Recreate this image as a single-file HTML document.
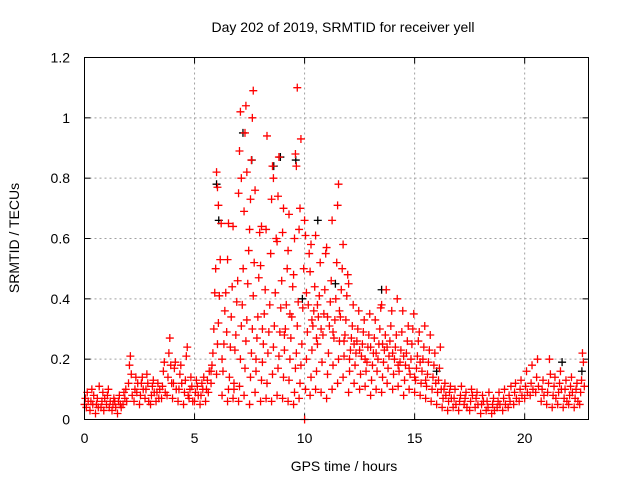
<!DOCTYPE html>
<html><head><meta charset="utf-8">
<style>
html,body{margin:0;padding:0;background:#fff;}
svg{display:block;font-family:"Liberation Sans",sans-serif;}
</style></head>
<body>
<svg id="chart" width="640" height="480" viewBox="0 0 640 480">
<rect width="640" height="480" fill="#fff"/>
<text x="343" y="32" text-anchor="middle" font-size="14">Day 202 of 2019, SRMTID for receiver yell</text>
<g id="grid"></g>
<g id="ticks"></g>
<g id="marks"></g>
<rect x="84.5" y="57.5" width="504" height="362" fill="none" stroke="#000" stroke-width="1"/>
<text x="344" y="471" text-anchor="middle" font-size="14">GPS time / hours</text>
<text transform="translate(19,238) rotate(-90)" text-anchor="middle" font-size="14">SRMTID / TECUs</text>
</svg>
<script>
const xTicks = [0,5,10,15,20];
const yTicks = [0,0.2,0.4,0.6,0.8,1,1.2];
const yTickLabels = ["0","0.2","0.4","0.6","0.8","1","1.2"];
const hours = [0,0.25,0.5,0.75,1,1.25,1.5,1.75,2,2.25,2.5,2.75,3,3.25,3.5,3.75,4,4.25,4.5,4.75,5,5.25,5.5,5.75,6,6.25,6.5,6.75,7,7.25,7.5,7.75,8,8.25,8.5,8.75,9,9.25,9.5,9.75,10,10.25,10.5,10.75,11,11.25,11.5,11.75,12,12.25,12.5,12.75,13,13.25,13.5,13.75,14,14.25,14.5,14.75,15,15.25,15.5,15.75,16,16.25,16.5,16.75,17,17.25,17.5,17.75,18,18.25,18.5,18.75,19,19.25,19.5,19.75,20,20.25,20.5,20.75,21,21.25,21.5,21.75,22,22.25,22.5];
const srmtid = [
[.05,.07,.04,.09,.06],[.03,.06,.10,.05,.08],[.02,.05,.07,.04,.11],[.04,.06,.09,.03,.07],[.05,.08,.10,.04,.06],
[.03,.05,.07,.06,.04],[.02,.06,.08,.05,.04],[.05,.09,.07,.10,.06],[.12,.18,.21,.15,.08],[.06,.10,.14,.09,.12],
[.05,.08,.12,.14,.10],[.07,.10,.15,.12,.06],[.05,.08,.11,.13,.09],[.06,.09,.12,.07,.10],[.07,.11,.16,.19,.09],
[.08,.14,.22,.27,.18,.12],[.07,.12,.17,.19,.10],[.06,.10,.15,.18,.12],[.05,.09,.13,.21,.24,.08],[.07,.10,.14,.11,.06],
[.06,.09,.13,.11,.08],[.05,.08,.12,.10,.14],[.06,.10,.13,.09,.16],[.12,.18,.22,.30,.42,.50,.16],
[.15,.25,.32,.41,.53,.65,.82,.77,.71],[.08,.16,.25,.36,.42,.29,.20],[.06,.10,.14,.24,.34,.44,.53,.65],
[.07,.12,.23,.28,.39,.46,.64,.10],[.06,.11,.20,.31,.38,.50,.75,.89,1.02,.80],[.08,.17,.26,.33,.45,.56,.69,.95,1.04,.82],
[.05,.14,.22,.30,.41,.52,.63,.73,.86,1.00,1.09],[.09,.16,.27,.34,.47,.62,.76,.20],[.06,.13,.19,.25,.35,.43,.51,.64,.30],
[.07,.12,.22,.29,.38,.55,.63,.94],[.06,.15,.24,.31,.42,.60,.73,.84,.80],[.08,.17,.21,.29,.37,.46,.59,.74,.87],
[.07,.14,.23,.30,.38,.50,.62,.70,.28],[.06,.13,.20,.27,.34,.44,.56,.68,.35],[.05,.09,.17,.22,.31,.39,.48,.60,.88,.84,1.10],
[.07,.12,.18,.25,.37,.50,.63,.70,.93],[.00,.10,.20,.29,.38,.55,.66,.61,.42],[.08,.14,.23,.31,.36,.44,.49,.58,.33],
[.10,.16,.25,.34,.41,.52,.61,.27,.38],[.09,.19,.28,.35,.43,.55,.30],[.07,.15,.22,.31,.39,.46,.57,.34],
[.10,.18,.27,.33,.40,.52,.66,.29],[.12,.20,.26,.34,.43,.50,.71,.78,.36],[.14,.21,.28,.33,.41,.48,.58,.26],
[.09,.16,.23,.27,.31,.38,.45,.20],[.12,.18,.22,.26,.30,.36,.25],[.10,.15,.21,.25,.29,.33,.23],[.11,.16,.19,.24,.28,.35,.20],
[.08,.13,.18,.22,.27,.33,.24],[.10,.16,.20,.25,.30,.37,.22],[.09,.14,.19,.23,.28,.43,.38,.25],[.12,.17,.21,.26,.31,.36,.24],
[.10,.15,.20,.24,.28,.40,.22],[.11,.16,.19,.23,.29,.36,.18],[.08,.13,.18,.22,.26,.31,.21],[.10,.15,.20,.25,.30,.35,.17],
[.09,.13,.17,.21,.26,.29,.14],[.08,.12,.16,.20,.24,.31,.19],[.07,.11,.15,.19,.23,.28,.13],[.06,.10,.14,.18,.22,.12],
[.05,.09,.13,.17,.24,.10],[.04,.07,.10,.12,.08],[.03,.06,.09,.11,.07],[.04,.07,.10,.05],[.03,.06,.08,.11],
[.05,.07,.09,.04],[.03,.06,.10,.08],[.04,.07,.09,.05],[.02,.05,.08,.06],[.03,.06,.04,.09],[.02,.05,.07,.03],
[.04,.06,.09,.05],[.03,.07,.10,.05],[.04,.08,.06,.11],[.05,.09,.12,.07],[.06,.10,.13,.08],[.07,.11,.16,.09],
[.08,.12,.18,.10],[.09,.14,.20,.11],[.06,.10,.13,.08],[.05,.09,.12,.20,.15],[.04,.08,.11,.14,.07],
[.05,.09,.12,.16,.10],[.04,.07,.10,.13,.06],[.05,.08,.11,.14,.09],[.04,.07,.10,.12,.06],[.05,.09,.13,.22,.19,.11]
];
const blackHours = [6.0,6.1,7.2,7.6,8.6,8.9,9.6,9.9,10.6,11.4,13.5,16.0,21.7,22.6];
const blackValues = [0.78,0.66,0.95,0.86,0.84,0.87,0.86,0.40,0.66,0.45,0.43,0.16,0.19,0.16];

const NS="http://www.w3.org/2000/svg";
const X0=84.5,X1=588.5,Y0=419.5,Y1=57.5,XMAX=22.9,YMAX=1.2;
function xs(v){return X0+(X1-X0)*v/XMAX;}
function ys(v){return Y0-(Y0-Y1)*v/YMAX;}
const grid=document.getElementById('grid'),ticks=document.getElementById('ticks'),marks=document.getElementById('marks');
function mk(tag,attrs,parent){const e=document.createElementNS(NS,tag);for(const k in attrs)e.setAttribute(k,attrs[k]);parent.appendChild(e);return e;}
xTicks.forEach(t=>{
  const x=xs(t);
  if(t>0){const g=mk('line',{x1:x,x2:x,y1:Y0,y2:Y1,stroke:'#a0a0a0','stroke-dasharray':'2,3'},grid);
  
  }
  mk('line',{x1:x,x2:x,y1:Y0,y2:Y0-6,stroke:'#000'},ticks);
  mk('line',{x1:x,x2:x,y1:Y1,y2:Y1+6,stroke:'#000'},ticks);
  const l=mk('text',{x:x,y:443,'text-anchor':'middle','font-size':'14'},ticks);
  l.textContent=t;
  
  
});
yTicks.forEach((t,i)=>{
  const y=ys(t);
  if(t>0&&t<1.2){const g=mk('line',{x1:X0,x2:X1,y1:y,y2:y,stroke:'#a0a0a0','stroke-dasharray':'2,3'},grid);
  
  }
  mk('line',{x1:X0,x2:X0+6,y1:y,y2:y,stroke:'#000'},ticks);
  mk('line',{x1:X1,x2:X1-6,y1:y,y2:y,stroke:'#000'},ticks);
  const l=mk('text',{x:70,y:y+5,'text-anchor':'end','font-size':'14'},ticks);
  l.textContent=yTickLabels[i];
  
  
});
function plus(t,v,color,name){
  const x=xs(t),y=ys(v);
  const p=mk('path',{d:`M${x-4},${y}h8M${x},${y-4}v8`,stroke:color,'stroke-width':'1.3',fill:'none'},marks);
  
  
}
blackHours.forEach((h,i)=>plus(h,blackValues[i],'#000','black-point'));
hours.forEach((h,i)=>{
  srmtid[i].forEach((v,j)=>plus(h+(j%6)*0.042,v,'#f00','srmtid-point'));
});
</script>
</body></html>
